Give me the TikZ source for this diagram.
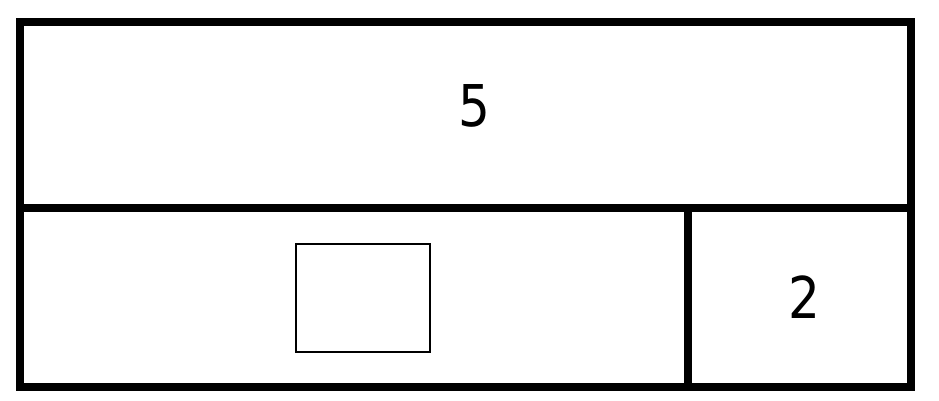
\documentclass[tikz,border=0pt]{standalone}
\usepackage{fontspec}
\setmainfont{DejaVu Sans}[FakeStretch=0.87]
\usetikzlibrary{positioning}
\tikzstyle{bar} = [rectangle, line width=8pt, draw=black, inner sep=0pt, outer sep=0pt]
\tikzstyle{unknownbox} = [rectangle, line width=1.6pt, draw=black, inner sep=0pt]
\tikzstyle{number} = [inner sep=0pt, font=\fontsize{57.6}{60}\selectfont]

\begin{document}
\begin{tikzpicture}[x=1pt, y=-1pt]
		\useasboundingbox (0,0) rectangle (939,400);
		\node (Whole) [bar, minimum width=891pt, minimum height=186pt] at (465.5,115) {};
		\node (Rest) [bar, minimum width=668pt, minimum height=178.7pt, below right=0pt of Whole.south west] {};
		\node (Part) [bar, minimum width=223pt, minimum height=178.7pt, right=0pt of Rest] {};
		\node (Unknown) [unknownbox, minimum width=134pt, minimum height=108pt] at (363,298) {};
		\node (WholeValue) [number] at (474,106) {5};
		\node (PartValue) [number, xshift=5pt] at (Part) {2};
	\end{tikzpicture}
\end{document}
